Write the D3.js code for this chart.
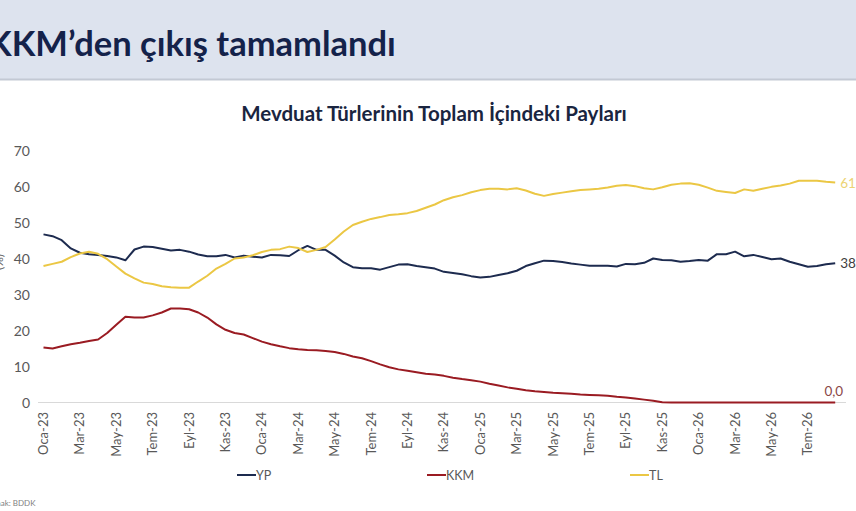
<!DOCTYPE html>
<html>
<head>
<meta charset="utf-8">
<script src="https://cdn.jsdelivr.net/npm/d3@7"></script>
<style>
  html, body { margin: 0; padding: 0; background: #fff; }
  svg { display: block; font-family: Lato, "Open Sans", sans-serif; }
</style>
</head>
<body>
<svg id="chart" width="856" height="511"></svg>
<script>
// x grid: half-month steps from Oca-23 (0) to mid Ağu-26 (43.5)
const monthIdx = d3.range(0, 44, 0.5);

const tickMonths = d3.range(0, 43, 2);
const tickLabels = ["Oca-23","Mar-23","May-23","Tem-23","Eyl-23","Kas-23",
  "Oca-24","Mar-24","May-24","Tem-24","Eyl-24","Kas-24",
  "Oca-25","Mar-25","May-25","Tem-25","Eyl-25","Kas-25",
  "Oca-26","Mar-26","May-26","Tem-26"];

const yTicks = [0, 10, 20, 30, 40, 50, 60, 70];

const ypValues = [
  46.7,46.2,45.1,42.8,41.6,41.2,41.0,40.7,40.3,39.5,
  42.5,43.3,43.2,42.7,42.2,42.4,41.9,41.1,40.6,40.6,
  41.0,40.3,40.8,40.5,40.3,41.0,40.9,40.7,42.3,43.5,
  42.4,42.4,40.8,38.9,37.6,37.3,37.3,36.9,37.6,38.3,
  38.4,37.9,37.6,37.2,36.3,36.0,35.6,35.1,34.7,34.9,
  35.4,35.9,36.6,37.9,38.7,39.4,39.3,39.0,38.6,38.3,
  38.0,38.0,38.0,37.8,38.5,38.4,38.8,40.0,39.6,39.5,
  39.1,39.3,39.6,39.4,41.2,41.2,41.9,40.6,41.0,40.4,
  39.8,40.0,39.1,38.4,37.7,37.9,38.4,38.7
];

const kkmValues = [
  15.3,15.0,15.6,16.2,16.6,17.1,17.5,19.3,21.6,23.8,
  23.6,23.6,24.2,25.0,26.1,26.1,25.9,25.0,23.6,21.7,
  20.2,19.3,18.9,17.9,16.9,16.2,15.6,15.1,14.8,14.6,
  14.5,14.3,14.0,13.5,12.8,12.3,11.5,10.6,9.8,9.2,
  8.8,8.4,8.0,7.8,7.4,6.9,6.5,6.2,5.8,5.2,
  4.7,4.2,3.8,3.4,3.1,2.9,2.7,2.6,2.4,2.2,
  2.1,2.0,1.9,1.6,1.4,1.1,0.8,0.5,0.1,0.0,
  0.0,0.0,0.0,0.0,0.0,0.0,0.0,0.0,0.0,0.0,
  0.0,0.0,0.0,0.0,0.0,0.0,0.0,0.0
];

const tlValues = [
  37.9,38.5,39.1,40.4,41.4,41.9,41.3,39.8,37.8,35.8,
  34.5,33.3,32.9,32.3,32.0,31.9,31.9,33.6,35.2,37.2,
  38.5,40.0,40.3,40.9,41.8,42.4,42.6,43.3,42.9,41.8,
  42.4,43.2,45.3,47.5,49.3,50.2,51.0,51.5,52.1,52.3,
  52.6,53.2,54.1,55.0,56.2,57.0,57.6,58.4,59.0,59.4,
  59.4,59.2,59.5,58.9,58.0,57.4,57.9,58.3,58.7,59.0,
  59.2,59.4,59.7,60.2,60.4,60.1,59.5,59.2,59.8,60.5,
  60.8,60.9,60.5,59.7,58.8,58.5,58.2,59.2,58.8,59.4,
  59.9,60.3,60.8,61.6,61.6,61.6,61.3,61.1
];

const series = [
  { name: "YP",  values: ypValues,  color: "#1d2b4f", label: "#404040" },
  { name: "KKM", values: kkmValues, color: "#9a1b22", label: "#8a4747" },
  { name: "TL",  values: tlValues,  color: "#ebc744", label: "#ecd374" }
];

const svg = d3.select("#chart");
const x = d3.scaleLinear().domain([0, 43.5]).range([43.5, 835.2]);
const y = d3.scaleLinear().domain([0, 70]).range([402.5, 150.5]);
const fmt = v => d3.format(".1f")(v).replace(".", ",");

// header band
svg.append("rect").attr("x", 0).attr("y", 0).attr("width", 856).attr("height", 79)
  .attr("fill", "#dde3ee");
svg.append("line").attr("x1", 0).attr("x2", 856).attr("y1", 79.5).attr("y2", 79.5)
  .attr("stroke", "#c3c9d4").attr("stroke-width", 2);
svg.append("text").attr("x", -12).attr("y", 56)
  .attr("font-size", 34.5).attr("font-weight", 700).attr("fill", "#14224a")
  .text("KKM’den çıkış tamamlandı");

svg.append("text").attr("x", 434).attr("y", 121).attr("text-anchor", "middle")
  .attr("font-size", 20.5).attr("font-weight", 700).attr("fill", "#1a2540")
  .text("Mevduat Türlerinin Toplam İçindeki Payları");

// y axis labels
svg.append("g").selectAll("text").data(yTicks).join("text")
  .attr("x", 30).attr("y", d => y(d) + 5)
  .attr("text-anchor", "end").attr("font-size", 14).attr("fill", "#595959")
  .text(d => d);
svg.append("text").attr("transform", "translate(3,262) rotate(-90)")
  .attr("text-anchor", "middle").attr("font-size", 12).attr("fill", "#595959")
  .text("(%)");

// baseline
svg.append("line").attr("x1", 38).attr("x2", 846)
  .attr("y1", y(0)).attr("y2", y(0))
  .attr("stroke", "#d9d9d9").attr("stroke-width", 1);

// x tick labels
svg.append("g").selectAll("text").data(tickMonths).join("text")
  .attr("transform", d => `translate(${x(d) + 4.5},412) rotate(-90)`)
  .attr("text-anchor", "end").attr("font-size", 13).attr("fill", "#595959")
  .text((d, i) => tickLabels[i]);

// lines
const line = d3.line().x((d, i) => x(monthIdx[i])).y(d => y(d));
series.forEach(s => {
  svg.append("path").datum(s.values)
    .attr("d", line).attr("fill", "none")
    .attr("stroke", s.color).attr("stroke-width", 2)
    .attr("stroke-linejoin", "round");
});

// end labels
const endX = x(monthIdx[monthIdx.length - 1]);
svg.append("text").attr("x", endX + 5).attr("y", y(tlValues[tlValues.length - 1]) + 5)
  .attr("font-size", 13.5).attr("fill", series[2].label)
  .text(fmt(tlValues[tlValues.length - 1]));
svg.append("text").attr("x", endX + 5).attr("y", y(ypValues[ypValues.length - 1]) + 5)
  .attr("font-size", 13.5).attr("fill", series[0].label)
  .text(fmt(ypValues[ypValues.length - 1]));
svg.append("text").attr("x", endX + 8).attr("y", y(kkmValues[kkmValues.length - 1]) - 7)
  .attr("text-anchor", "end").attr("font-size", 13.5).attr("fill", series[1].label)
  .text(fmt(kkmValues[kkmValues.length - 1]));

// legend
const legendX = [237, 427, 630];
const lg = svg.append("g").selectAll("g").data(series).join("g")
  .attr("transform", (d, i) => `translate(${legendX[i]},475)`);
lg.append("line").attr("x1", 0).attr("x2", 19).attr("y1", 0).attr("y2", 0)
  .attr("stroke", d => d.color).attr("stroke-width", 2);
lg.append("text").attr("x", 19).attr("y", 4.5)
  .attr("font-size", 12.5).attr("fill", "#595959").text(d => d.name);

// source
svg.append("text").attr("x", -17).attr("y", 506)
  .attr("font-size", 8).attr("fill", "#7f7f7f").text("Kaynak: BDDK");
</script>
</body>
</html>
